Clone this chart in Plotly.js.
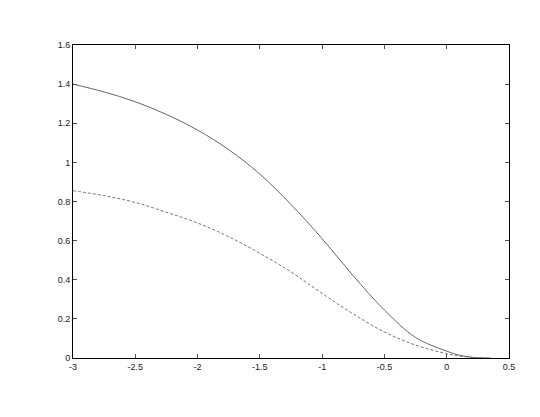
<!DOCTYPE html>
<html>
<head>
<meta charset="utf-8">
<script src="https://cdn.plot.ly/plotly-3.0.1.min.js"></script>
<style>
  html, body { margin: 0; padding: 0; background: #fff; }
  #chart { width: 540px; height: 417px; }
</style>
</head>
<body>
<div id="chart"></div>
<script>
// values
const xs = [-3, -2.75, -2.5, -2.25, -2, -1.75, -1.5, -1.25, -1, -0.75, -0.5, -0.25, 0, 0.1, 0.2, 0.3, 0.35];
const upper = [1.40, 1.36, 1.31, 1.245, 1.165, 1.065, 0.94, 0.785, 0.61, 0.42, 0.245, 0.105, 0.035, 0.015, 0.004, 0, 0];
const lower = [0.855, 0.83, 0.795, 0.745, 0.69, 0.62, 0.535, 0.44, 0.33, 0.225, 0.133, 0.066, 0.022, 0.01, 0.003, 0, 0];

const xTickVals = [-3, -2.5, -2, -1.5, -1, -0.5, 0, 0.5];
const xTickText = ['-3', '-2.5', '-2', '-1.5', '-1', '-0.5', '0', '0.5'];
const yTickVals = [0, 0.2, 0.4, 0.6, 0.8, 1, 1.2, 1.4, 1.6];
const yTickText = ['0', '0.2', '0.4', '0.6', '0.8', '1', '1.2', '1.4', '1.6'];

const upperTrace = {
    x: xs,
    y: upper,
    type: 'scatter',
    mode: 'lines',
    line: { color: '#666', width: 1, shape: 'spline', smoothing: 1 },
    hoverinfo: 'x+y'
};

const lowerTrace = {
    x: xs,
    y: lower,
    type: 'scatter',
    mode: 'lines',
    line: { color: '#777', width: 1, dash: '3px,2px', shape: 'spline', smoothing: 1 },
    hoverinfo: 'x+y'
};

const axisCommon = {
    showline: true,
    linecolor: '#000',
    linewidth: 1,
    mirror: 'ticks',
    ticks: 'inside',
    ticklen: 4,
    tickcolor: '#555',
    showgrid: false,
    zeroline: false,
    tickfont: { family: 'Liberation Sans, Arial, sans-serif', size: 9, color: '#222' }
};

const layout = {
    width: 540,
    height: 417,
    showlegend: false,
    paper_bgcolor: '#fff',
    plot_bgcolor: '#fff',
    margin: { l: 73, r: 31, t: 45, b: 59 },
    xaxis: Object.assign({}, axisCommon, {
        range: [-3, 0.5],
        tickmode: 'array',
        tickvals: xTickVals,
        ticktext: xTickText
    }),
    yaxis: Object.assign({}, axisCommon, {
        range: [0, 1.6],
        tickmode: 'array',
        tickvals: yTickVals,
        ticktext: yTickText
    })
};

Plotly.newPlot('chart', [upperTrace, lowerTrace], layout, { displayModeBar: false, staticPlot: true });
</script>
</body>
</html>
